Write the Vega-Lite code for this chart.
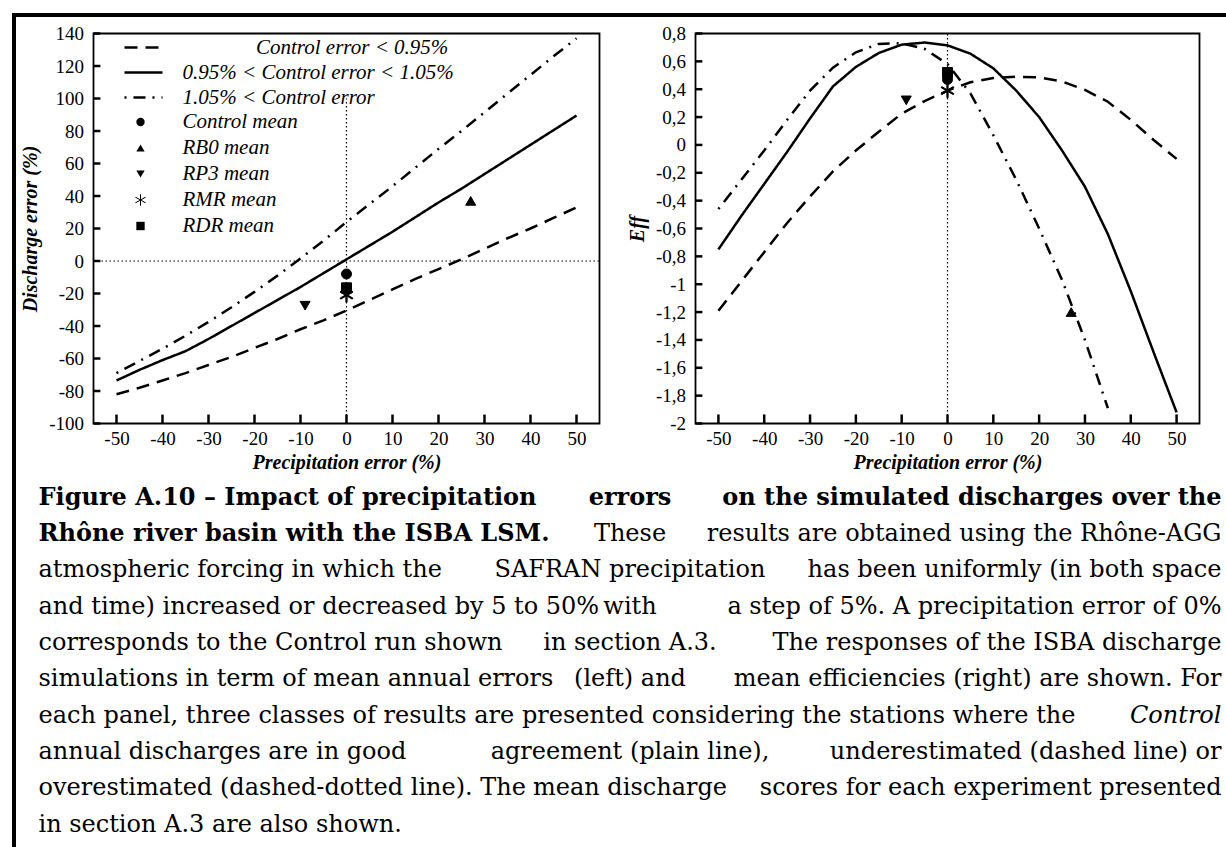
{
  "$schema": "https://vega.github.io/schema/vega-lite/v6.json",
  "background": "white",
  "padding": {"left": 11.5, "top": 12.5, "right": 0, "bottom": 0},
  "bounds": "flush",
  "spacing": 0,
  "datasets": {
    "curves": [
      {"precip": -50, "class": "Control error < 0.95%", "discharge_err": -82, "eff": -1.19},
      {"precip": -45, "class": "Control error < 0.95%", "discharge_err": -78, "eff": -0.98},
      {"precip": -40, "class": "Control error < 0.95%", "discharge_err": -73.5, "eff": -0.77},
      {"precip": -35, "class": "Control error < 0.95%", "discharge_err": -69, "eff": -0.56},
      {"precip": -30, "class": "Control error < 0.95%", "discharge_err": -64, "eff": -0.37},
      {"precip": -25, "class": "Control error < 0.95%", "discharge_err": -59, "eff": -0.19},
      {"precip": -20, "class": "Control error < 0.95%", "discharge_err": -53.5, "eff": -0.04},
      {"precip": -15, "class": "Control error < 0.95%", "discharge_err": -48, "eff": 0.095},
      {"precip": -10, "class": "Control error < 0.95%", "discharge_err": -42, "eff": 0.225},
      {"precip": -5, "class": "Control error < 0.95%", "discharge_err": -36.5, "eff": 0.315},
      {"precip": 0, "class": "Control error < 0.95%", "discharge_err": -30.5, "eff": 0.39},
      {"precip": 5, "class": "Control error < 0.95%", "discharge_err": -24, "eff": 0.45},
      {"precip": 10, "class": "Control error < 0.95%", "discharge_err": -17.5, "eff": 0.48},
      {"precip": 15, "class": "Control error < 0.95%", "discharge_err": -11, "eff": 0.49},
      {"precip": 20, "class": "Control error < 0.95%", "discharge_err": -5, "eff": 0.485},
      {"precip": 25, "class": "Control error < 0.95%", "discharge_err": 1, "eff": 0.455},
      {"precip": 30, "class": "Control error < 0.95%", "discharge_err": 7.5, "eff": 0.395},
      {"precip": 35, "class": "Control error < 0.95%", "discharge_err": 14, "eff": 0.31},
      {"precip": 40, "class": "Control error < 0.95%", "discharge_err": 20, "eff": 0.18},
      {"precip": 45, "class": "Control error < 0.95%", "discharge_err": 26.5, "eff": 0.035},
      {"precip": 50, "class": "Control error < 0.95%", "discharge_err": 33, "eff": -0.1},
      {"precip": -50, "class": "0.95% < Control error < 1.05%", "discharge_err": -73.5, "eff": -0.75},
      {"precip": -45, "class": "0.95% < Control error < 1.05%", "discharge_err": -67, "eff": -0.51},
      {"precip": -40, "class": "0.95% < Control error < 1.05%", "discharge_err": -61, "eff": -0.28},
      {"precip": -35, "class": "0.95% < Control error < 1.05%", "discharge_err": -55.5, "eff": -0.05},
      {"precip": -30, "class": "0.95% < Control error < 1.05%", "discharge_err": -48, "eff": 0.19},
      {"precip": -25, "class": "0.95% < Control error < 1.05%", "discharge_err": -40, "eff": 0.42},
      {"precip": -20, "class": "0.95% < Control error < 1.05%", "discharge_err": -32, "eff": 0.56},
      {"precip": -15, "class": "0.95% < Control error < 1.05%", "discharge_err": -24, "eff": 0.66},
      {"precip": -10, "class": "0.95% < Control error < 1.05%", "discharge_err": -16, "eff": 0.72},
      {"precip": -5, "class": "0.95% < Control error < 1.05%", "discharge_err": -7.5, "eff": 0.735},
      {"precip": 0, "class": "0.95% < Control error < 1.05%", "discharge_err": 1, "eff": 0.715},
      {"precip": 5, "class": "0.95% < Control error < 1.05%", "discharge_err": 9.5, "eff": 0.655},
      {"precip": 10, "class": "0.95% < Control error < 1.05%", "discharge_err": 18, "eff": 0.55},
      {"precip": 15, "class": "0.95% < Control error < 1.05%", "discharge_err": 27, "eff": 0.39},
      {"precip": 20, "class": "0.95% < Control error < 1.05%", "discharge_err": 36, "eff": 0.2},
      {"precip": 25, "class": "0.95% < Control error < 1.05%", "discharge_err": 44.5, "eff": -0.04},
      {"precip": 30, "class": "0.95% < Control error < 1.05%", "discharge_err": 53.5, "eff": -0.3},
      {"precip": 35, "class": "0.95% < Control error < 1.05%", "discharge_err": 62.5, "eff": -0.64},
      {"precip": 40, "class": "0.95% < Control error < 1.05%", "discharge_err": 71.5, "eff": -1.05},
      {"precip": 45, "class": "0.95% < Control error < 1.05%", "discharge_err": 80.5, "eff": -1.49},
      {"precip": 50, "class": "0.95% < Control error < 1.05%", "discharge_err": 89.5, "eff": -1.92},
      {"precip": -50, "class": "1.05% < Control error", "discharge_err": -69, "eff": -0.46},
      {"precip": -45, "class": "1.05% < Control error", "discharge_err": -61.5, "eff": -0.25},
      {"precip": -40, "class": "1.05% < Control error", "discharge_err": -54, "eff": -0.04},
      {"precip": -35, "class": "1.05% < Control error", "discharge_err": -46, "eff": 0.18},
      {"precip": -30, "class": "1.05% < Control error", "discharge_err": -37.5, "eff": 0.39},
      {"precip": -25, "class": "1.05% < Control error", "discharge_err": -28.5, "eff": 0.555},
      {"precip": -20, "class": "1.05% < Control error", "discharge_err": -19, "eff": 0.665},
      {"precip": -15, "class": "1.05% < Control error", "discharge_err": -9, "eff": 0.725},
      {"precip": -10, "class": "1.05% < Control error", "discharge_err": 1.5, "eff": 0.73},
      {"precip": -5, "class": "1.05% < Control error", "discharge_err": 12.5, "eff": 0.69},
      {"precip": 0, "class": "1.05% < Control error", "discharge_err": 24, "eff": 0.58},
      {"precip": 5, "class": "1.05% < Control error", "discharge_err": 35, "eff": 0.37},
      {"precip": 10, "class": "1.05% < Control error", "discharge_err": 46, "eff": 0.07},
      {"precip": 15, "class": "1.05% < Control error", "discharge_err": 57.5, "eff": -0.25},
      {"precip": 20, "class": "1.05% < Control error", "discharge_err": 69, "eff": -0.6},
      {"precip": 25, "class": "1.05% < Control error", "discharge_err": 80, "eff": -0.97},
      {"precip": 30, "class": "1.05% < Control error", "discharge_err": 91.5, "eff": -1.4},
      {"precip": 35, "class": "1.05% < Control error", "discharge_err": 103, "eff": -1.89},
      {"precip": 40, "class": "1.05% < Control error", "discharge_err": 114.5, "eff": null},
      {"precip": 45, "class": "1.05% < Control error", "discharge_err": 126, "eff": null},
      {"precip": 50, "class": "1.05% < Control error", "discharge_err": 137, "eff": null}
    ],
    "means": [
      {"experiment": "Control mean", "precip": 0, "discharge_err": -8, "eff": 0.47},
      {"experiment": "RB0 mean", "precip": 27, "discharge_err": 37, "eff": -1.2},
      {"experiment": "RP3 mean", "precip": -9, "discharge_err": -27.5, "eff": 0.32},
      {"experiment": "RMR mean", "precip": 0, "discharge_err": -21, "eff": 0.39},
      {"experiment": "RDR mean", "precip": 0, "discharge_err": -16.5, "eff": 0.52}
    ],
    "xticks": [
      {"precip": -50, "discharge_err": -100, "discharge_tick": -94.5, "eff": -2, "eff_tick": -1.935},
      {"precip": -40, "discharge_err": -100, "discharge_tick": -94.5, "eff": -2, "eff_tick": -1.935},
      {"precip": -30, "discharge_err": -100, "discharge_tick": -94.5, "eff": -2, "eff_tick": -1.935},
      {"precip": -20, "discharge_err": -100, "discharge_tick": -94.5, "eff": -2, "eff_tick": -1.935},
      {"precip": -10, "discharge_err": -100, "discharge_tick": -94.5, "eff": -2, "eff_tick": -1.935},
      {"precip": 0, "discharge_err": -100, "discharge_tick": -94.5, "eff": -2, "eff_tick": -1.935},
      {"precip": 10, "discharge_err": -100, "discharge_tick": -94.5, "eff": -2, "eff_tick": -1.935},
      {"precip": 20, "discharge_err": -100, "discharge_tick": -94.5, "eff": -2, "eff_tick": -1.935},
      {"precip": 30, "discharge_err": -100, "discharge_tick": -94.5, "eff": -2, "eff_tick": -1.935},
      {"precip": 40, "discharge_err": -100, "discharge_tick": -94.5, "eff": -2, "eff_tick": -1.935},
      {"precip": 50, "discharge_err": -100, "discharge_tick": -94.5, "eff": -2, "eff_tick": -1.935}
    ],
    "yticks_discharge": [
      {"precip": -55, "precip_tick": -53.5, "discharge_err": -100}, {"precip": -55, "precip_tick": -53.5, "discharge_err": -80},
      {"precip": -55, "precip_tick": -53.5, "discharge_err": -60}, {"precip": -55, "precip_tick": -53.5, "discharge_err": -40},
      {"precip": -55, "precip_tick": -53.5, "discharge_err": -20}, {"precip": -55, "precip_tick": -53.5, "discharge_err": 0},
      {"precip": -55, "precip_tick": -53.5, "discharge_err": 20}, {"precip": -55, "precip_tick": -53.5, "discharge_err": 40},
      {"precip": -55, "precip_tick": -53.5, "discharge_err": 60}, {"precip": -55, "precip_tick": -53.5, "discharge_err": 80},
      {"precip": -55, "precip_tick": -53.5, "discharge_err": 100}, {"precip": -55, "precip_tick": -53.5, "discharge_err": 120},
      {"precip": -55, "precip_tick": -53.5, "discharge_err": 140}
    ],
    "yticks_eff": [
      {"precip": -55, "precip_tick": -53.5, "eff": -2}, {"precip": -55, "precip_tick": -53.5, "eff": -1.8},
      {"precip": -55, "precip_tick": -53.5, "eff": -1.6}, {"precip": -55, "precip_tick": -53.5, "eff": -1.4},
      {"precip": -55, "precip_tick": -53.5, "eff": -1.2}, {"precip": -55, "precip_tick": -53.5, "eff": -1},
      {"precip": -55, "precip_tick": -53.5, "eff": -0.8}, {"precip": -55, "precip_tick": -53.5, "eff": -0.6},
      {"precip": -55, "precip_tick": -53.5, "eff": -0.4}, {"precip": -55, "precip_tick": -53.5, "eff": -0.2},
      {"precip": -55, "precip_tick": -53.5, "eff": 0}, {"precip": -55, "precip_tick": -53.5, "eff": 0.2},
      {"precip": -55, "precip_tick": -53.5, "eff": 0.4}, {"precip": -55, "precip_tick": -53.5, "eff": 0.6},
      {"precip": -55, "precip_tick": -53.5, "eff": 0.8}
    ],
    "caption": [
      {"line": 1, "side": "left", "part": "heading", "text": "Figure A.10 – Impact of precipitation"},
      {"line": 1, "side": "center", "part": "heading", "text": "errors"},
      {"line": 1, "side": "right", "part": "heading", "text": "on the simulated discharges over the"},
      {"line": 2, "side": "left", "part": "heading", "text": "Rhône river basin with the ISBA LSM."},
      {"line": 2, "side": "center", "part": "body", "text": "These"},
      {"line": 2, "side": "right", "part": "body", "text": "results are obtained using the Rhône-AGG"},
      {"line": 3, "side": "left", "part": "body", "text": "atmospheric forcing in which the"},
      {"line": 3, "side": "center", "part": "body", "text": "SAFRAN precipitation"},
      {"line": 3, "side": "right", "part": "body", "text": "has been uniformly (in both space"},
      {"line": 4, "side": "left", "part": "body", "text": "and time) increased or decreased by 5 to 50%"},
      {"line": 4, "side": "center", "part": "body", "text": "with"},
      {"line": 4, "side": "right", "part": "body", "text": "a step of 5%. A precipitation error of 0%"},
      {"line": 5, "side": "left", "part": "body", "text": "corresponds to the Control run shown"},
      {"line": 5, "side": "center", "part": "body", "text": "in section A.3."},
      {"line": 5, "side": "right", "part": "body", "text": "The responses of the ISBA discharge"},
      {"line": 6, "side": "left", "part": "body", "text": "simulations in term of mean annual errors"},
      {"line": 6, "side": "center", "part": "body", "text": "(left) and"},
      {"line": 6, "side": "right", "part": "body", "text": "mean efficiencies (right) are shown. For"},
      {"line": 7, "side": "left", "part": "body", "text": "each panel, three classes of results are presented considering the stations where the"},
      {"line": 7, "side": "right", "part": "emphasis", "text": "Control"},
      {"line": 8, "side": "left", "part": "body", "text": "annual discharges are in good"},
      {"line": 8, "side": "center", "part": "body", "text": "agreement (plain line),"},
      {"line": 8, "side": "right", "part": "body", "text": "underestimated (dashed line) or"},
      {"line": 9, "side": "left", "part": "body", "text": "overestimated (dashed-dotted line). The"},
      {"line": 9, "side": "center", "part": "body", "text": "mean discharge"},
      {"line": 9, "side": "right", "part": "body", "text": "scores for each experiment presented"},
      {"line": 10, "side": "left", "part": "body", "text": "in section A.3 are also shown."}
    ]
  },
  "vconcat": [
    {
      "width": 1211, "height": 1,
      "data": {"values": []},
      "mark": {"type": "point"},
      "view": {"stroke": "black", "strokeWidth": 3}
    },
    {
      "hconcat": [
        {
          "width": 1, "height": 830,
          "data": {"values": []},
          "mark": {"type": "point"},
          "view": {"stroke": "black", "strokeWidth": 3}
        },
        {
          "concat": [
            {"width": 1, "height": 1, "data": {"values": []}, "mark": {"type": "point"}},
            {"width": 1, "height": 1, "data": {"values": []}, "mark": {"type": "point"}},
            {
              "width": 506, "height": 390,
              "view": {"stroke": "black", "strokeWidth": 1.8},
              "encoding": {
                "x": {"field": "precip", "type": "quantitative", "title": "Precipitation error (%)",
                      "scale": {"domain": [-55, 55], "nice": false, "zero": false},
                      "axis": {"values": [-50, -40, -30, -20, -10, 0, 10, 20, 30, 40, 50], "title": "Precipitation error (%)",
                               "ticks": false, "labelOverlap": false, "labelPadding": 6, "titlePadding": 4}},
                "y": {"field": "discharge_err", "type": "quantitative", "title": "Discharge error (%)",
                      "scale": {"domain": [-100, 140], "nice": false, "zero": false},
                      "axis": {"values": [-100, -80, -60, -40, -20, 0, 20, 40, 60, 80, 100, 120, 140], "title": "Discharge error (%)",
                               "ticks": false, "labelOverlap": false, "labelPadding": 10, "titlePadding": 8}}
              },
              "layer": [
                {
                  "data": {"values": [{"precip": -55, "precip_end": 55, "discharge_err": 0}]},
                  "mark": {"type": "rule", "color": "black", "strokeDash": [1.5, 2.5], "strokeWidth": 1.2},
                  "encoding": {"x2": {"field": "precip_end"}}
                },
                {
                  "data": {"values": [{"precip": 0, "discharge_err": -100, "discharge_err_end": 100}]},
                  "mark": {"type": "rule", "color": "black", "strokeDash": [1.5, 2.5], "strokeWidth": 1.2},
                  "encoding": {"y2": {"field": "discharge_err_end"}}
                },
                {
                  "data": {"name": "xticks"},
                  "mark": {"type": "rule", "color": "black", "strokeWidth": 2.5},
                  "encoding": {"y2": {"field": "discharge_tick"}}
                },
                {
                  "data": {"name": "yticks_discharge"},
                  "mark": {"type": "rule", "color": "black", "strokeWidth": 2.5},
                  "encoding": {"x2": {"field": "precip_tick"}}
                },
                {
                  "data": {"name": "curves"},
                  "mark": {"type": "line", "color": "black", "strokeWidth": 2.5},
                  "encoding": {
                    "strokeDash": {"field": "class", "type": "nominal",
                          "scale": {"domain": ["Control error < 0.95%", "0.95% < Control error < 1.05%", "1.05% < Control error"], "range": [[13, 8], [1, 0], [2, 7, 12, 7]]},
                          "legend": {"orient": "none", "legendX": 39, "legendY": 3, "title": null, "padding": 0,
                                     "symbolType": "M-2,0H2", "symbolSize": 361, "symbolStrokeWidth": 2.5, "symbolStrokeColor": "black",
                                     "labelOffset": 28, "rowPadding": 4,
                                     "labelExpr": "indexof(datum.label, 'Control error') == 0 ? '\u200b\u00a0\u00a0\u00a0\u00a0\u00a0\u00a0\u00a0\u00a0\u00a0\u00a0\u00a0\u00a0\u00a0\u00a0' + datum.label : datum.label"}}
                  }
                },
                {
                  "data": {"name": "means"},
                  "mark": {"type": "point", "filled": true, "color": "black", "stroke": "black", "strokeWidth": 1, "size": 100, "opacity": 1},
                  "encoding": {
                    "shape": {"field": "experiment", "type": "nominal",
                          "scale": {"domain": ["Control mean", "RB0 mean", "RP3 mean", "RMR mean", "RDR mean"],
                                    "range": ["circle", "triangle-up", "triangle-down", "M-0.12,-1.4L0.12,-1.4L0.12,1.4L-0.12,1.4ZM-1.272,-0.596L-1.152,-0.804L1.272,0.596L1.152,0.804ZM1.152,-0.804L1.272,-0.596L-1.152,0.804L-1.272,0.596Z", "square"]},
                          "legend": {"orient": "none", "legendX": 36.5, "legendY": 78, "title": null, "padding": 0,
                                     "symbolSize": 70, "symbolFillColor": "black", "symbolStrokeColor": "black", "symbolStrokeWidth": 1, "symbolOpacity": 1,
                                     "labelOffset": 31.5, "rowPadding": 4}}
                  }
                }
              ]
            },
            {
              "width": 504, "height": 390,
              "view": {"stroke": "black", "strokeWidth": 1.8},
              "encoding": {
                "x": {"field": "precip", "type": "quantitative", "title": "Precipitation error (%)",
                      "scale": {"domain": [-55, 55], "nice": false, "zero": false},
                      "axis": {"values": [-50, -40, -30, -20, -10, 0, 10, 20, 30, 40, 50], "title": "Precipitation error (%)",
                               "ticks": false, "labelOverlap": false, "labelPadding": 6, "titlePadding": 4}},
                "y": {"field": "eff", "type": "quantitative", "title": "Eff",
                      "scale": {"domain": [-2, 0.8], "nice": false, "zero": false},
                      "axis": {"values": [-2, -1.8, -1.6, -1.4, -1.2, -1, -0.8, -0.6, -0.4, -0.2, 0, 0.2, 0.4, 0.6, 0.8], "title": "Eff",
                               "ticks": false, "labelOverlap": false, "labelPadding": 10, "titlePadding": 8,
                               "labelExpr": "replace(replace(format(datum.value, '.1~f'), '.', ','), '\u2212', '-')"}}
              },
              "layer": [
                {
                  "data": {"values": [{"precip": 0, "eff": -2, "eff_end": 0.8}]},
                  "mark": {"type": "rule", "color": "black", "strokeDash": [1.5, 2.5], "strokeWidth": 1.2},
                  "encoding": {"y2": {"field": "eff_end"}}
                },
                {
                  "data": {"name": "xticks"},
                  "mark": {"type": "rule", "color": "black", "strokeWidth": 2.5},
                  "encoding": {"y2": {"field": "eff_tick"}}
                },
                {
                  "data": {"name": "yticks_eff"},
                  "mark": {"type": "rule", "color": "black", "strokeWidth": 2.5},
                  "encoding": {"x2": {"field": "precip_tick"}}
                },
                {
                  "data": {"name": "curves"},
                  "mark": {"type": "line", "color": "black", "strokeWidth": 2.5},
                  "encoding": {
                    "strokeDash": {"field": "class", "type": "nominal",
                          "scale": {"domain": ["Control error < 0.95%", "0.95% < Control error < 1.05%", "1.05% < Control error"], "range": [[13, 8], [1, 0], [2, 7, 12, 7]]},
                          "legend": null}
                  }
                },
                {
                  "data": {"name": "means"},
                  "mark": {"type": "point", "filled": true, "color": "black", "stroke": "black", "strokeWidth": 1, "size": 100, "opacity": 1},
                  "encoding": {
                    "shape": {"field": "experiment", "type": "nominal",
                          "scale": {"domain": ["Control mean", "RB0 mean", "RP3 mean", "RMR mean", "RDR mean"],
                                    "range": ["circle", "triangle-up", "triangle-down", "M-0.12,-1.4L0.12,-1.4L0.12,1.4L-0.12,1.4ZM-1.272,-0.596L-1.152,-0.804L1.272,0.596L1.152,0.804ZM1.152,-0.804L1.272,-0.596L-1.152,0.804L-1.272,0.596Z", "square"]},
                          "legend": null}
                  }
                }
              ]
            },
            {
              "width": 506, "height": 400,
              "data": {"name": "caption"},
              "encoding": {
                "x": {"field": "side", "type": "nominal", "scale": {"type": "point", "domain": ["left", "center", "right"], "range": [-55, 1128], "padding": 0}, "axis": null},
                "y": {"field": "line", "type": "quantitative", "scale": {"domain": [-0.76, 10.24], "reverse": true, "nice": false, "zero": false}, "axis": null},
                "text": {"field": "text", "type": "nominal"}
              },
              "layer": [
                {"transform": [{"filter": "datum.part == 'heading' && datum.side == 'left'"}],
                 "mark": {"type": "text", "style": "caption", "align": "left", "fontWeight": "bold"}},
                {"transform": [{"filter": "datum.part == 'heading' && datum.side == 'center'"}],
                 "mark": {"type": "text", "style": "caption", "align": "center", "fontWeight": "bold"}},
                {"transform": [{"filter": "datum.part == 'heading' && datum.side == 'right'"}],
                 "mark": {"type": "text", "style": "caption", "align": "right", "fontWeight": "bold"}},
                {"transform": [{"filter": "datum.part == 'body' && datum.side == 'left'"}],
                 "mark": {"type": "text", "style": "caption", "align": "left"}},
                {"transform": [{"filter": "datum.part == 'body' && datum.side == 'center'"}],
                 "mark": {"type": "text", "style": "caption", "align": "center"}},
                {"transform": [{"filter": "datum.part == 'body' && datum.side == 'right'"}],
                 "mark": {"type": "text", "style": "caption", "align": "right"}},
                {"transform": [{"filter": "datum.part == 'emphasis'"}],
                 "mark": {"type": "text", "style": "caption", "align": "right", "fontStyle": "italic"}}
              ]
            }
          ],
          "columns": 2,
          "spacing": {"row": 17, "column": 96},
          "bounds": "flush",
          "resolve": {
            "scale": {"shape": "independent", "strokeDash": "independent"},
            "legend": {"shape": "independent", "strokeDash": "independent"}
          }
        }
      ],
      "spacing": 79,
      "bounds": "flush"
    }
  ],
  "config": {
    "font": "Liberation Serif",
    "view": {"stroke": null},
    "style": {
      "caption": {"font": "DejaVu Serif", "fontSize": 24, "baseline": "alphabetic", "color": "black", "fill": "black"}
    },
    "axis": {
      "grid": false,
      "domain": false,
      "zindex": 1,
      "labelColor": "black", "labelFont": "Liberation Serif", "labelFontSize": 19,
      "labelFlush": false, "labelOverlap": false, "labelBound": false,
      "labelExpr": "replace(datum.label, '\u2212', '-')",
      "titleColor": "black", "titleFont": "Liberation Serif", "titleFontSize": 20,
      "titleFontWeight": "bold", "titleFontStyle": "italic"
    },
    "legend": {
      "labelFont": "Liberation Serif", "labelFontSize": 21, "labelFontStyle": "italic",
      "labelColor": "black", "labelLimit": 500
    }
  }
}
